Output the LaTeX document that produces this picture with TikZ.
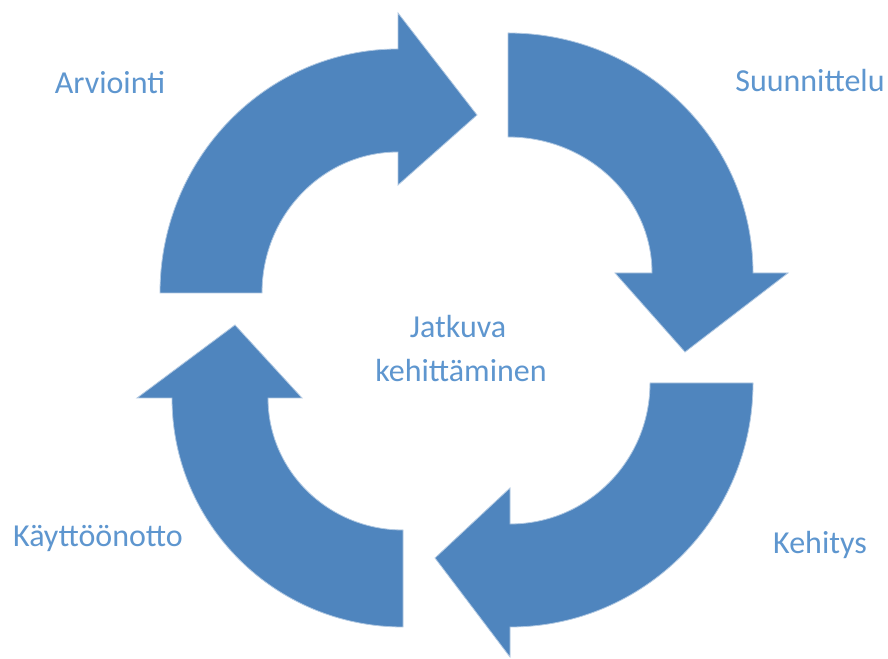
\documentclass[tikz,border=0pt]{standalone}
\usepackage{fontspec}
\setmainfont{Carlito}
\definecolor{arrowblue}{HTML}{4F85BE}
\definecolor{labelblue}{HTML}{5E96CF}
\tikzset{
  cyclearrow/.style={fill=arrowblue, draw=arrowblue!45, line width=0.8pt, line join=miter},
  stagelabel/.style={text=labelblue, font=\fontsize{32}{38}\selectfont, inner sep=0pt, anchor=base}
}
\begin{document}
\begin{tikzpicture}[x=1pt,y=1pt]
  \useasboundingbox (0,0) rectangle (888,658);
  \fill[white] (0,0) rectangle (888,658);

  % upper-left arrow, pointing right
  \draw[cyclearrow] (262,365) -- (160,365)
    arc[start angle=180, end angle=90, x radius=238pt, y radius=244pt]
    -- (398,645) -- (477,543) -- (398,473) -- (398,506)
    arc[start angle=90, end angle=180, x radius=136pt, y radius=141pt]
    -- cycle;

  % upper-right arrow, pointing down
  \draw[cyclearrow] (508,521) -- (508,625)
    arc[start angle=90, end angle=0, x radius=245pt, y radius=240pt]
    -- (788,385) -- (685,306) -- (615,385) -- (652,385)
    arc[start angle=0, end angle=90, x radius=144pt, y radius=136pt]
    -- cycle;

  % lower-right arrow, pointing left
  \draw[cyclearrow] (650,275) -- (753,275)
    arc[start angle=0, end angle=-90, x radius=243pt, y radius=244pt]
    -- (510,1) -- (435,100) -- (510,170) -- (510,134)
    arc[start angle=-90, end angle=0, x radius=140pt, y radius=141pt]
    -- cycle;

  % lower-left arrow, pointing up
  \draw[cyclearrow] (403,128) -- (403,31)
    arc[start angle=-90, end angle=-180, x radius=231pt, y radius=229pt]
    -- (137,260) -- (235,333) -- (302,260) -- (268,260)
    arc[start angle=180, end angle=270, x radius=135pt, y radius=132pt]
    -- cycle;

  % stage labels
  \node[stagelabel] (arviointi) at (110,564) {Arviointi};
  \node[stagelabel] (suunnittelu) at (810,566) {Suunnittelu};
  \node[stagelabel] (kehitys) at (820,104) {Kehitys};
  \node[stagelabel] (kayttoonotto) at (98,111) {Käyttöönotto};

  % centre text
  \node[stagelabel] (jatkuva) at (458,320) {Jatkuva};
  \node[stagelabel] (kehittaminen) at (461,276) {kehittäminen};
\end{tikzpicture}
\end{document}
